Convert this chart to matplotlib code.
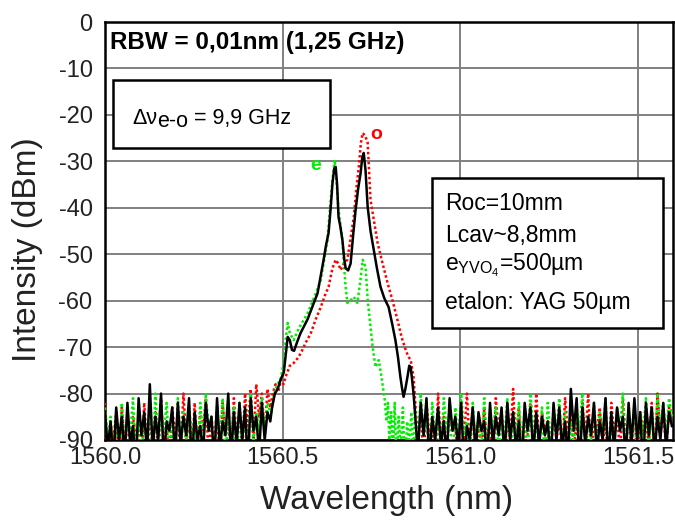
import numpy as np
import matplotlib
matplotlib.use("Agg")
import matplotlib.pyplot as plt
from matplotlib.patches import Rectangle

plt.rcParams['font.family'] = ['Liberation Sans', 'DejaVu Sans']
plt.rcParams['axes.unicode_minus'] = False
plt.rcParams['mathtext.fontset'] = 'custom'
plt.rcParams['mathtext.rm'] = 'Liberation Sans'
plt.rcParams['mathtext.it'] = 'Liberation Sans'

# --- spectra around the two peaks (wavelength nm, intensity dBm) ---
black_x = [1560.470, 1560.478, 1560.486, 1560.494, 1560.503, 1560.508, 1560.514, 1560.520,
           1560.526, 1560.532, 1560.540, 1560.550, 1560.560, 1560.570, 1560.580, 1560.590,
           1560.598, 1560.606, 1560.615, 1560.622, 1560.629, 1560.635, 1560.640, 1560.645,
           1560.649, 1560.653, 1560.657, 1560.662, 1560.668, 1560.673, 1560.677, 1560.684,
           1560.691, 1560.698, 1560.705, 1560.712, 1560.719, 1560.724, 1560.728, 1560.733,
           1560.739, 1560.747, 1560.756, 1560.765, 1560.775, 1560.786, 1560.798, 1560.808,
           1560.817, 1560.824, 1560.831, 1560.836, 1560.840, 1560.845, 1560.851, 1560.856,
           1560.860, 1560.864, 1560.868]
black_y = [-83, -80, -79, -77, -75.5, -72, -67.8, -68.5,
           -70.6, -70.8, -69, -67, -65.5, -64, -62, -60,
           -58.4, -55, -51.2, -48, -45.4, -40, -34.7, -31.5,
           -31.2, -35, -42, -44, -47, -51, -53, -53.5,
           -52, -46, -40.5, -36, -32.6, -29, -28.2, -32,
           -39.8, -45, -49, -53, -57, -59.5, -61.4, -65,
           -68.5, -72, -76.4, -79, -80.7, -79, -76.4, -74,
           -74.3, -77, -80]

red_x = [1560.472, 1560.480, 1560.488, 1560.495, 1560.502, 1560.510, 1560.520, 1560.530,
         1560.541, 1560.551, 1560.565, 1560.579, 1560.593, 1560.607, 1560.618, 1560.629,
         1560.640, 1560.649, 1560.656, 1560.663, 1560.672, 1560.682, 1560.690, 1560.700,
         1560.707, 1560.714, 1560.720, 1560.725, 1560.732, 1560.739, 1560.743, 1560.747,
         1560.757, 1560.767, 1560.781, 1560.795, 1560.809, 1560.823, 1560.835, 1560.846,
         1560.853, 1560.860, 1560.865, 1560.868]
red_y = [-80, -78, -79.5, -77, -78, -76, -74, -73.5,
         -72.5, -71.3, -69, -67, -64, -61.4, -59, -57,
         -53, -51.2, -52, -53.4, -52, -51.2, -47, -42,
         -36, -31.2, -26, -23.9, -24.5, -26, -32, -38.3,
         -43, -47.6, -52, -56.2, -60, -64.2, -68, -70.6,
         -72, -72.8, -75, -76.4]

green_x = [1560.468, 1560.476, 1560.485, 1560.494, 1560.503, 1560.509, 1560.514, 1560.520,
           1560.531, 1560.545, 1560.560, 1560.570, 1560.590, 1560.607, 1560.617, 1560.626,
           1560.633, 1560.640, 1560.646, 1560.651, 1560.657, 1560.668, 1560.672, 1560.677,
           1560.682, 1560.690, 1560.700, 1560.710, 1560.718, 1560.725, 1560.733, 1560.739,
           1560.746, 1560.753, 1560.761, 1560.770, 1560.778, 1560.787, 1560.792, 1560.796,
           1560.800, 1560.805, 1560.810, 1560.815, 1560.820, 1560.826, 1560.832, 1560.838,
           1560.844, 1560.850, 1560.856, 1560.862, 1560.868]
green_y = [-84, -80, -78, -77, -73, -68, -64.8, -67,
           -68.5, -66, -64, -62.7, -59, -55.6, -51, -47,
           -40, -34, -29.7, -34, -40.5, -47, -52, -57,
           -60.5, -60, -59.2, -60.5, -56, -51.2, -52.7, -59.8,
           -65, -70, -74.3, -72.8, -76.4, -81.4, -86, -82,
           -90, -84, -93, -82, -95, -85, -92, -83,
           -96, -86, -91, -84, -94]

# --- noise floor, left of the peaks (1560.000 - 1560.465 nm) ---
noise_left_range = (1560.0, 1560.465)
black_left = [-84, -92, -86, -95, -83, -90, -85, -94, -82, -91, -87, -96, -81, -89, -84, -93,
              -78, -92, -85, -90, -80, -95, -86, -88, -83, -94, -82, -91, -85, -89, -81, -96,
              -84, -90, -87, -93, -82, -88, -85, -95, -81, -92, -86, -89, -80, -94, -84, -91,
              -82, -90, -83, -96, -81, -88, -85, -93, -82, -90, -84, -86]
red_left = [-82, -94, -87, -90, -84, -96, -83, -91, -86, -93, -85, -89, -88, -95, -82, -92,
            -86, -90, -84, -94, -81, -91, -87, -96, -83, -89, -85, -93, -80, -90, -86, -95,
            -82, -92, -84, -88, -81, -94, -85, -91, -83, -96, -82, -89, -86, -93, -81, -90,
            -84, -92, -80, -88, -79, -91, -78, -85, -80, -89, -79, -83]
green_left = [-83, -90, -85, -93, -88, -96, -82, -91, -86, -89, -81, -94, -84, -92, -87, -90,
              -83, -95, -80, -91, -85, -88, -82, -93, -86, -96, -81, -90, -84, -92, -83, -89,
              -87, -95, -82, -91, -80, -88, -85, -94, -84, -90, -81, -93, -86, -89, -83, -96,
              -82, -91, -85, -92, -80, -90, -84, -88, -81, -89, -82, -84]

# --- noise floor, right of the peaks (1560.872 - 1561.595 nm) ---
noise_right_range = (1560.872, 1561.595)
black_right = [-84, -93, -82, -89, -81, -95, -85, -90, -83, -91, -86, -94, -81, -88, -85, -92,
               -82, -96, -87, -90, -83, -93, -84, -88, -86, -95, -82, -91, -85, -89, -83, -94,
               -82, -90, -84, -92, -86, -96, -82, -88, -83, -93, -84, -91, -85, -89, -86, -95,
               -82, -90, -83, -92, -86, -94, -79, -88, -81, -96, -83, -91, -85, -89, -82, -93,
               -86, -90, -81, -95, -84, -92, -83, -88, -85, -94, -82, -91, -81, -90, -84, -96,
               -82, -89, -83, -93, -85, -90, -82, -92, -84, -87]
red_right = [-81, -90, -84, -94, -82, -89, -86, -96, -80, -91, -85, -93, -83, -88, -87, -95,
             -82, -90, -80, -92, -84, -89, -86, -94, -83, -91, -85, -96, -81, -88, -84, -93,
             -86, -90, -79, -92, -83, -95, -85, -89, -82, -94, -80, -91, -84, -88, -86, -96,
             -83, -90, -85, -93, -81, -89, -84, -92, -86, -95, -82, -90, -80, -94, -85, -88,
             -83, -91, -86, -96, -82, -89, -84, -93, -81, -90, -85, -92, -83, -95, -84, -88,
             -86, -91, -82, -94, -80, -89, -84, -92, -83, -86]
green_right = [-83, -92, -80, -89, -85, -95, -82, -90, -86, -93, -81, -88, -84, -96, -83, -91,
               -80, -89, -86, -94, -82, -90, -85, -92, -81, -95, -84, -88, -83, -93, -86, -90,
               -81, -96, -85, -89, -82, -91, -84, -94, -80, -88, -86, -92, -83, -95, -82, -90,
               -85, -89, -81, -93, -84, -96, -86, -91, -83, -88, -80, -94, -85, -90, -82, -92,
               -84, -89, -81, -95, -86, -91, -83, -88, -80, -93, -85, -90, -82, -96, -84, -89,
               -81, -92, -83, -94, -80, -88, -82, -90, -81, -85]

x_ticks = [1560.0, 1560.5, 1561.0, 1561.5]
x_ticklabels = ['1560.0', '1560.5', '1561.0', '1561.5']
y_ticks = [0, -10, -20, -30, -40, -50, -60, -70, -80, -90]


def full_trace(left, peak_x, peak_y, right):
    xl = np.linspace(noise_left_range[0], noise_left_range[1], len(left))
    xr = np.linspace(noise_right_range[0], noise_right_range[1], len(right))
    x = np.concatenate([xl, peak_x, xr])
    y = np.concatenate([left, peak_y, right])
    return x, y


W, H = 675, 521
fig = plt.figure(figsize=(W / 100, H / 100), dpi=100)
ax = fig.add_axes([105 / W, 1 - 440 / H, (673 - 105) / W, (440 - 22) / H])

xr_, yr_ = full_trace(red_left, red_x, red_y, red_right)
xg_, yg_ = full_trace(green_left, green_x, green_y, green_right)
xb_, yb_ = full_trace(black_left, black_x, black_y, black_right)
ax.plot(xr_, yr_, color='#ff0000', lw=1.8, ls=(0, (1, 1)), zorder=3)
ax.plot(xg_, yg_, color='#00ee00', lw=1.8, ls=(0, (1, 1)), zorder=3)
ax.plot(xb_, yb_, color='black', lw=1.8, zorder=4)

ax.set_xlim(1560.0, 1561.598)
ax.set_ylim(-90, 0)
ax.set_xticks(x_ticks)
ax.set_xticklabels(x_ticklabels)
ax.set_yticks(y_ticks)
ax.tick_params(length=0, labelsize=17, colors='#222222')
ax.tick_params(axis='y', pad=9)
ax.tick_params(axis='x', pad=5)
ax.grid(True, color='#808080', lw=1.4)
ax.set_axisbelow(True)
for s in ax.spines.values():
    s.set_linewidth(1.8)
    s.set_color('black')

fig.text(28 / W, 1 - 250 / H, 'Intensity (dBm)', rotation=90, ha='center', va='center',
         fontsize=24, color='#222222')
fig.text(387 / W, 1 - 500 / H, 'Wavelength (nm)', ha='center', va='center',
         fontsize=24, color='#222222')

ax.text(1560.015, -4.5, 'RBW = 0,01nm (1,25 GHz)', fontsize=17.5, fontweight='bold',
        va='center', ha='left')

# left box
ax.add_patch(Rectangle((0.014, 0.699), 0.382, 0.162, transform=ax.transAxes,
                       facecolor='white', edgecolor='black', lw=1.8, zorder=5))
t1 = ax.text(0.049, 0.757, 'Δν', transform=ax.transAxes, ha='left', va='baseline',
             fontsize=15.5, zorder=6)
t2 = ax.annotate('e-o', xy=(1, 0), xycoords=t1, xytext=(-0.5, -2.5), textcoords='offset points',
                 ha='left', va='bottom', fontsize=15.5, zorder=6)
ax.annotate(' = 9,9 GHz', xy=(1, 0), xycoords=(t2, t1), xytext=(0, 0),
            textcoords='offset points', ha='left', va='bottom', fontsize=15.5, zorder=6)

# right box
ax.add_patch(Rectangle((0.576, 0.268), 0.407, 0.359, transform=ax.transAxes,
                       facecolor='white', edgecolor='black', lw=1.8, zorder=5))
box_lines = ['Roc=10mm', 'Lcav~8,8mm', r'e$_{\mathrm{YVO}_4}$=500µm', 'etalon: YAG 50µm']
box_y = [203, 235, 265, 302]
for s, yp in zip(box_lines, box_y):
    ax.text(0.599, (440 - yp) / 418, s, transform=ax.transAxes, ha='left', va='center',
            fontsize=16.5, zorder=6)

ax.text(1560.593, -30.8, 'e', color='#00ee00', fontsize=14, fontweight='bold',
        ha='center', va='center')
ax.text(1560.763, -24.3, 'o', color='#ff0000', fontsize=14, fontweight='bold',
        ha='center', va='center')

fig.savefig('out.png', dpi=100)
